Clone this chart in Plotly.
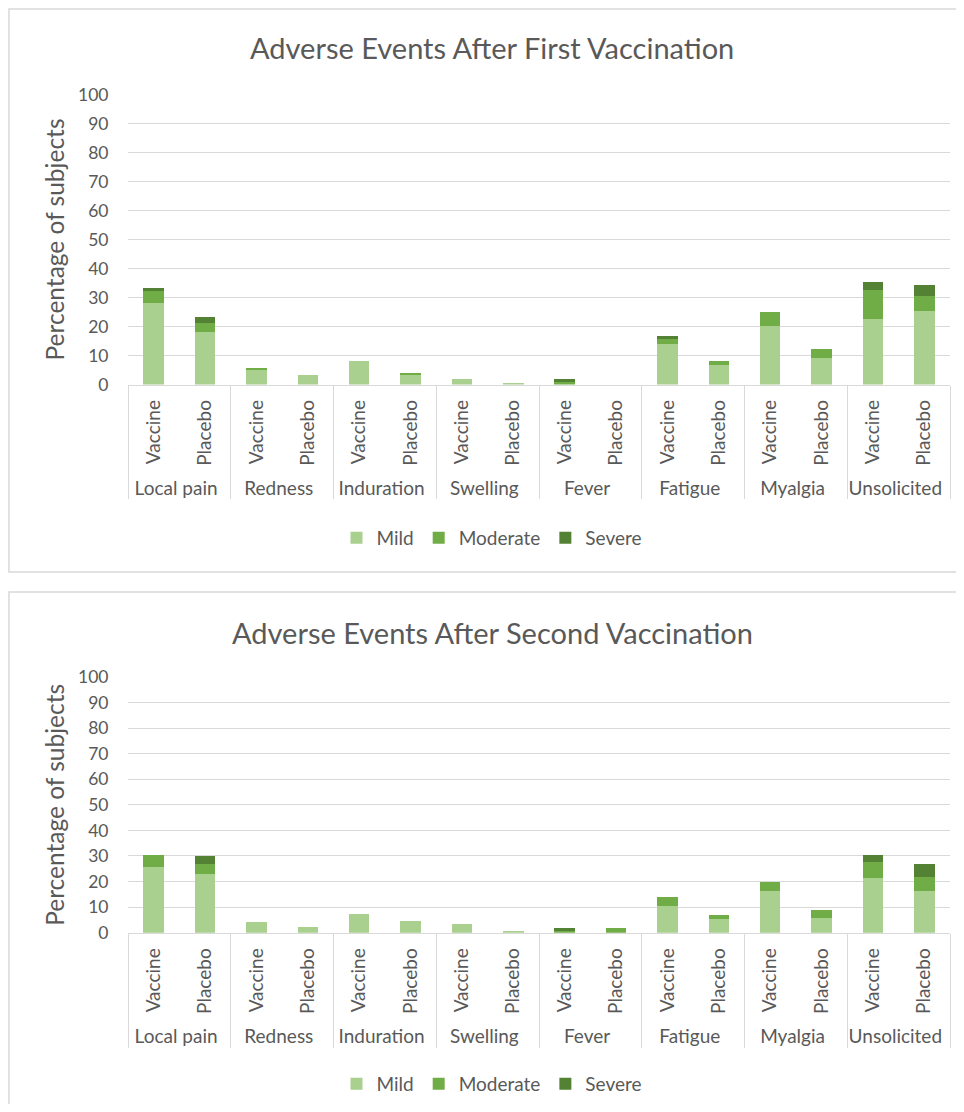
import plotly.graph_objects as go

# ---------------- data ----------------
symptoms = ["Local pain", "Redness", "Induration", "Swelling", "Fever", "Fatigue", "Myalgia", "Unsolicited"]
arms = ["Vaccine", "Placebo"]
grades = ["Mild", "Moderate", "Severe"]

# values in % of subjects, order: (symptom, arm) pairs
first_mild     = [28.0, 18.1, 5.0, 3.3, 8.1, 3.2, 1.8, 0.4, 0.0, 0.0, 13.9, 6.7, 20.3, 9.2, 22.6, 25.3]
first_moderate = [4.3, 3.2, 0.8, 0.0, 0.0, 0.9, 0.0, 0.0, 1.3, 0.0, 2.2, 1.5, 4.8, 3.0, 9.9, 5.3]
first_severe   = [0.9, 2.1, 0.0, 0.0, 0.0, 0.0, 0.0, 0.0, 0.5, 0.0, 0.6, 0.0, 0.0, 0.0, 2.9, 3.8]

second_mild     = [25.8, 22.8, 4.2, 2.2, 7.3, 4.6, 3.5, 0.8, 0.0, 0.0, 10.4, 5.2, 16.4, 5.9, 21.3, 16.4]
second_moderate = [4.6, 4.0, 0.0, 0.0, 0.0, 0.0, 0.0, 0.0, 0.7, 1.7, 3.4, 1.6, 3.5, 3.0, 6.2, 5.2]
second_severe   = [0.0, 3.2, 0.0, 0.0, 0.0, 0.0, 0.0, 0.0, 1.0, 0.0, 0.0, 0.0, 0.0, 0.0, 2.9, 5.2]

titles = ["Adverse Events After First Vaccination", "Adverse Events After Second Vaccination"]
y_title = "Percentage of subjects"
y_ticks = [0, 10, 20, 30, 40, 50, 60, 70, 80, 90, 100]

# ---------------- styling ----------------
colors = {"Mild": "#A9D08E", "Moderate": "#70AD47", "Severe": "#548235"}
FONT = "Lato, 'Open Sans', 'DejaVu Sans', sans-serif"
TXT = "#595959"
GRID = "#D9D9D9"

outer = [s for s in symptoms for _ in arms]
inner = [a for _ in symptoms for a in arms]

fig = go.Figure()

panels = [
    ("x", "y", "legend", [first_mild, first_moderate, first_severe]),
    ("x2", "y2", "legend2", [second_mild, second_moderate, second_severe]),
]
for xa, ya, lg, series in panels:
    for g, vals in zip(grades, series):
        fig.add_trace(go.Bar(
            x=[outer, inner], y=vals, name=g,
            marker=dict(color=colors[g], line=dict(width=0)),
            xaxis=xa, yaxis=ya, legend=lg,
        ))

W, H = 948, 1096

def fy(page_y):
    return 1 - (page_y - 8) / H

def fx(page_x):
    return (page_x - 8) / W

xdom = [fx(128), fx(950)]

axis_x = dict(
    type="multicategory", showline=True, linecolor=GRID, linewidth=1,
    showdividers=True, dividercolor=GRID, dividerwidth=1,
    tickangle=-90, tickfont=dict(family=FONT, size=19, color=TXT),
    ticks="", ticklabelstandoff=7,
    showgrid=False, automargin=False, domain=xdom, fixedrange=True,
)
axis_y = dict(
    range=[0, 100], tickvals=y_ticks, showgrid=True, gridcolor=GRID, gridwidth=1,
    zeroline=False, showline=False,
    tickfont=dict(family=FONT, size=17.5, color=TXT),
    ticks="outside", ticklen=15, tickcolor="rgba(0,0,0,0)",
    title=dict(text=y_title, font=dict(family=FONT, size=24.5, color=TXT), standoff=6),
    automargin=False, fixedrange=True,
)

LEG_FONT = dict(family=FONT, size=19, color=TXT)
TITLE_FONT = dict(family=FONT, size=29, color=TXT)

fig.update_layout(
    width=W, height=H,
    margin=dict(l=0, r=0, t=0, b=0),
    paper_bgcolor="white", plot_bgcolor="white",
    barmode="stack", bargap=0.6,
    font=dict(family=FONT, color=TXT),
    xaxis=dict(axis_x, anchor="y"),
    yaxis=dict(axis_y, domain=[fy(384.5), fy(94.5)], anchor="x"),
    xaxis2=dict(axis_x, anchor="y2"),
    yaxis2=dict(axis_y, domain=[fy(932.7), fy(677)], anchor="x2"),
    legend=dict(orientation="h", x=fx(492), xanchor="center", y=fy(538), yanchor="middle",
                font=LEG_FONT, traceorder="normal"),
    legend2=dict(orientation="h", x=fx(492), xanchor="center", y=fy(1084), yanchor="middle",
                 font=LEG_FONT, traceorder="normal"),
    showlegend=True,
    annotations=[
        dict(text=titles[0], x=fx(492), y=fy(48), xref="paper", yref="paper",
             showarrow=False, font=TITLE_FONT, xanchor="center", yanchor="middle"),
        dict(text=titles[1], x=fx(492), y=fy(632), xref="paper", yref="paper",
             showarrow=False, font=TITLE_FONT, xanchor="center", yanchor="middle"),
    ],
    shapes=[
        dict(type="rect", xref="paper", yref="paper", x0=0.001, x1=1.05, y0=fy(572), y1=0.999,
             line=dict(color=GRID, width=1.5), fillcolor="rgba(0,0,0,0)", layer="below"),
        dict(type="rect", xref="paper", yref="paper", x0=0.001, x1=1.05, y0=-0.05, y1=fy(592),
             line=dict(color=GRID, width=1.5), fillcolor="rgba(0,0,0,0)", layer="below"),
    ],
)

fig.write_html("out.html")
